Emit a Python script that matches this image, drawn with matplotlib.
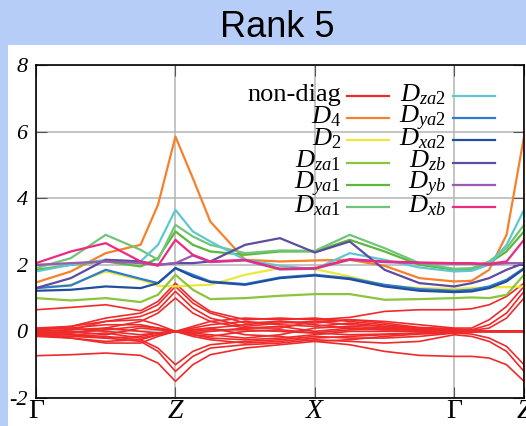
import matplotlib
matplotlib.use("Agg")
import matplotlib.pyplot as plt
from matplotlib.patches import Rectangle
from matplotlib.lines import Line2D

plt.rcParams['font.family'] = 'Liberation Serif'
plt.rcParams['mathtext.fontset'] = 'custom'
plt.rcParams['mathtext.rm'] = 'Liberation Serif'
plt.rcParams['mathtext.it'] = 'Liberation Serif:italic'

W, H = 526, 426

# path coordinate along Γ-Z-X-Γ-Z
k = [0, 0.25, 0.5, 0.75, 0.875, 1.0, 1.125, 1.25, 1.5, 1.75, 2.0,
     2.25, 2.5, 2.75, 3.0, 3.125, 3.25, 3.375, 3.5]
k_ticks = [0, 1, 2, 3, 3.5]
k_labels = ['Γ', 'Z', 'X', 'Γ', 'Z']

# off-diagonal bands
non_diag = [
    [0.65, 0.72, 0.8, 0.62, 0.9, 1.45, 0.95, 0.6, 0.35, 0.4, 0.35, 0.42, 0.6, 0.65, 0.65, 0.68, 0.8, 1.05, 1.45],
    [0.05, 0.15, 0.4, 0.55, 0.8, 1.35, 0.85, 0.55, 0.25, 0.3, 0.25, 0.35, 0.3, 0.2, 0.1, 0.1, 0.35, 0.75, 1.35],
    [0.0, 0.05, 0.3, 0.45, 0.65, 1.2, 0.7, 0.4, 0.15, 0.25, 0.3, 0.2, 0.15, 0.1, 0.05, 0.05, 0.2, 0.55, 1.2],
    [-0.05, -0.05, 0.1, 0.3, 0.55, 1.0, 0.55, 0.3, 0.1, 0.15, 0.0, 0.1, 0.05, 0.05, 0.02, 0.03, 0.1, 0.4, 1.0],
    [-0.73, -0.7, -0.65, -0.72, -0.95, -1.5, -1.0, -0.7, -0.5, -0.4, -0.3, -0.4, -0.6, -0.72, -0.75, -0.75, -0.8, -1.0, -1.5],
    [-0.12, -0.15, -0.2, -0.3, -0.6, -1.2, -0.75, -0.5, -0.4, -0.35, -0.25, -0.3, -0.35, -0.3, -0.1, -0.15, -0.3, -0.6, -1.2],
    [-0.08, -0.1, -0.15, -0.25, -0.5, -1.0, -0.6, -0.4, -0.3, -0.25, -0.15, -0.2, -0.2, -0.15, -0.05, -0.08, -0.2, -0.45, -1.0],
    [0.1, 0.15, 0.3, 0.35, 0.2, 0.0, 0.15, 0.3, 0.4, 0.35, 0.4, 0.3, 0.2, 0.1, 0.05, 0.02, 0.0, 0.0, 0.0],
    [0.05, 0.1, 0.2, 0.2, 0.1, 0.0, 0.1, 0.2, 0.3, 0.2, 0.15, 0.25, 0.15, 0.08, 0.03, 0.01, 0.0, 0.0, 0.0],
    [0.0, 0.05, 0.1, 0.0, -0.05, 0.0, 0.05, 0.1, 0.2, 0.3, 0.2, 0.1, 0.05, 0.05, 0.02, 0.0, 0.0, 0.0, 0.0],
    [-0.05, -0.1, -0.2, -0.15, -0.05, 0.0, -0.05, -0.1, -0.2, -0.1, 0.1, 0.15, 0.1, 0.03, 0.0, 0.0, 0.0, 0.0, 0.0],
    [-0.1, -0.2, -0.3, -0.25, -0.1, 0.0, -0.1, -0.2, -0.25, -0.2, -0.1, 0.0, 0.0, 0.0, -0.02, 0.0, 0.0, 0.0, 0.0],
    [-0.15, -0.2, -0.35, -0.35, -0.15, 0.0, -0.15, -0.25, -0.35, -0.3, -0.2, -0.15, -0.1, -0.05, -0.03, -0.01, 0.0, 0.0, 0.0],
    [0.03, 0.0, -0.1, 0.1, 0.05, 0.0, 0.0, 0.05, 0.05, 0.0, -0.05, 0.05, 0.1, 0.1, 0.07, 0.02, 0.0, 0.0, 0.0],
    [0.08, 0.1, 0.0, -0.1, -0.05, 0.0, -0.05, 0.0, 0.1, 0.1, 0.3, 0.35, 0.25, 0.12, 0.08, 0.02, 0.0, 0.0, 0.0],
    [-0.02, -0.05, 0.05, 0.15, 0.1, 0.0, 0.05, 0.1, -0.1, -0.15, -0.3, -0.25, -0.15, -0.08, -0.05, -0.02, 0.0, 0.0, 0.0],
    [-0.12, -0.1, -0.05, -0.2, -0.1, 0.0, -0.1, -0.15, 0.0, 0.05, -0.05, -0.1, -0.08, -0.05, -0.03, 0.0, 0.0, 0.0, 0.0],
]

# diagonal bands
D4 = [1.47, 1.8, 2.35, 2.6, 3.8, 5.85, 4.6, 3.3, 2.15, 2.1, 2.13, 2.15, 1.97, 1.6, 1.5, 1.52, 1.85, 2.9, 5.85]
D2 = [1.3, 1.4, 1.8, 1.55, 1.37, 1.35, 1.38, 1.4, 1.7, 1.9, 1.87, 1.65, 1.38, 1.3, 1.28, 1.3, 1.32, 1.33, 1.35]
Dza1 = [1.0, 0.93, 1.0, 0.88, 1.1, 1.7, 1.25, 0.97, 1.0, 1.07, 1.12, 1.12, 0.95, 0.97, 1.0, 1.02, 1.0, 1.1, 1.7]
Dya1 = [1.85, 2.0, 2.1, 1.95, 2.2, 3.0, 2.6, 2.4, 2.3, 2.4, 2.4, 2.75, 2.4, 2.0, 1.85, 1.87, 2.05, 2.4, 3.0]
Dxa1 = [1.9, 2.2, 2.9, 2.45, 2.15, 3.2, 2.85, 2.6, 2.35, 2.43, 2.42, 2.9, 2.5, 2.05, 1.88, 1.9, 2.1, 2.5, 3.2]
Dza2 = [1.8, 2.0, 2.15, 2.1, 2.6, 3.65, 3.0, 2.7, 2.15, 1.97, 1.87, 2.35, 2.15, 1.92, 1.8, 1.82, 2.0, 2.6, 3.65]
Dya2 = [1.3, 1.38, 1.85, 1.58, 1.45, 1.9, 1.7, 1.5, 1.42, 1.62, 1.7, 1.6, 1.4, 1.27, 1.22, 1.25, 1.35, 1.55, 1.9]
Dxa2 = [1.22, 1.25, 1.35, 1.3, 1.45, 1.9, 1.65, 1.48, 1.4, 1.6, 1.68, 1.57, 1.35, 1.22, 1.18, 1.2, 1.3, 1.5, 1.88]
Dzb = [1.3, 1.6, 2.15, 2.1, 2.0, 2.05, 2.05, 2.1, 2.6, 2.8, 2.37, 2.7, 1.85, 1.45, 1.35, 1.45, 1.6, 1.85, 2.05]
Dyb = [2.0, 2.05, 2.1, 2.05, 2.0, 2.05, 2.28, 2.08, 2.13, 1.86, 1.88, 2.15, 2.08, 2.05, 2.03, 2.03, 2.0, 2.05, 2.05]
Dxb = [2.05, 2.4, 2.65, 2.1, 1.97, 2.75, 2.3, 2.1, 2.15, 1.88, 1.9, 2.17, 2.1, 2.07, 2.05, 2.05, 2.03, 2.1, 2.75]

red = '#ef2a2a'
diag = [
    (D4, r'$\mathit{D_4}$', '#f7802a'),
    (D2, r'$\mathit{D_2}$', '#ece83a'),
    (Dza1, r'$\mathit{D_{za1}}$', '#8cc43c'),
    (Dya1, r'$\mathit{D_{ya1}}$', '#5cb83a'),
    (Dxa1, r'$\mathit{D_{xa1}}$', '#72c47a'),
    (Dza2, r'$\mathit{D_{za2}}$', '#5ec8d2'),
    (Dya2, r'$\mathit{D_{ya2}}$', '#2e7bcf'),
    (Dxa2, r'$\mathit{D_{xa2}}$', '#214f9e'),
    (Dzb, r'$\mathit{D_{zb}}$', '#5e4ba2'),
    (Dyb, r'$\mathit{D_{yb}}$', '#9a5bb0'),
    (Dxb, r'$\mathit{D_{xb}}$', '#ec2a82'),
]

fig = plt.figure(figsize=(W / 100, H / 100), dpi=100, facecolor='#b6cef7')
fig.add_artist(Rectangle((8 / W, 0), 1, 381 / H, transform=fig.transFigure,
                         facecolor='white', edgecolor='none', zorder=0))
fig.text(0.528, 1 - 37 / H, 'Rank 5', family='Liberation Sans', fontsize=26,
         ha='center', va='baseline')

ax = fig.add_axes([36 / W, 28 / H, 488 / W, 333 / H])

for band in non_diag:
    ax.plot(k, band, color=red, lw=1.2)
for vals, name, col in diag:
    ax.plot(k, vals, color=col, lw=1.6)

ax.set_xlim(0, 3.5)
ax.set_ylim(-2, 8)
ax.set_yticks([-2, 0, 2, 4, 6, 8])
ax.set_yticklabels(['-2', '0', '2', '4', '6', '8'], fontstyle='italic', fontsize=16)
ax.set_xticks(k_ticks)
ax.set_xticklabels(k_labels, fontsize=20)
for j in (1, 2, 4):
    ax.get_xticklabels()[j].set_fontstyle('italic')
ax.tick_params(direction='in', length=8, color='#555555', top=True, right=True)
ax.tick_params(axis='y', pad=6)
ax.tick_params(axis='x', pad=1)
ax.grid(True, color='#b4b4b4', lw=1.1)
ax.set_axisbelow(True)
for s in ax.spines.values():
    s.set_linewidth(1.2)

# two-column key: label on the left, line sample on the right
entries = [('non-diag', red)] + [(name, col) for _, name, col in diag]
text_right = [341, 446]
line_span = [(347, 389), (453, 495)]
for i, (name, col) in enumerate(entries):
    c, r = divmod(i, 6)
    y = 96 + 22.2 * r
    fig.text(text_right[c] / W, 1 - (y + 5) / H, name, fontsize=19,
             ha='right', va='baseline')
    x0, x1 = line_span[c]
    fig.add_artist(Line2D([x0 / W, x1 / W], [1 - y / H, 1 - y / H],
                          transform=fig.transFigure, color=col, lw=1.6))

fig.savefig('out.png', dpi=100, facecolor=fig.get_facecolor())
